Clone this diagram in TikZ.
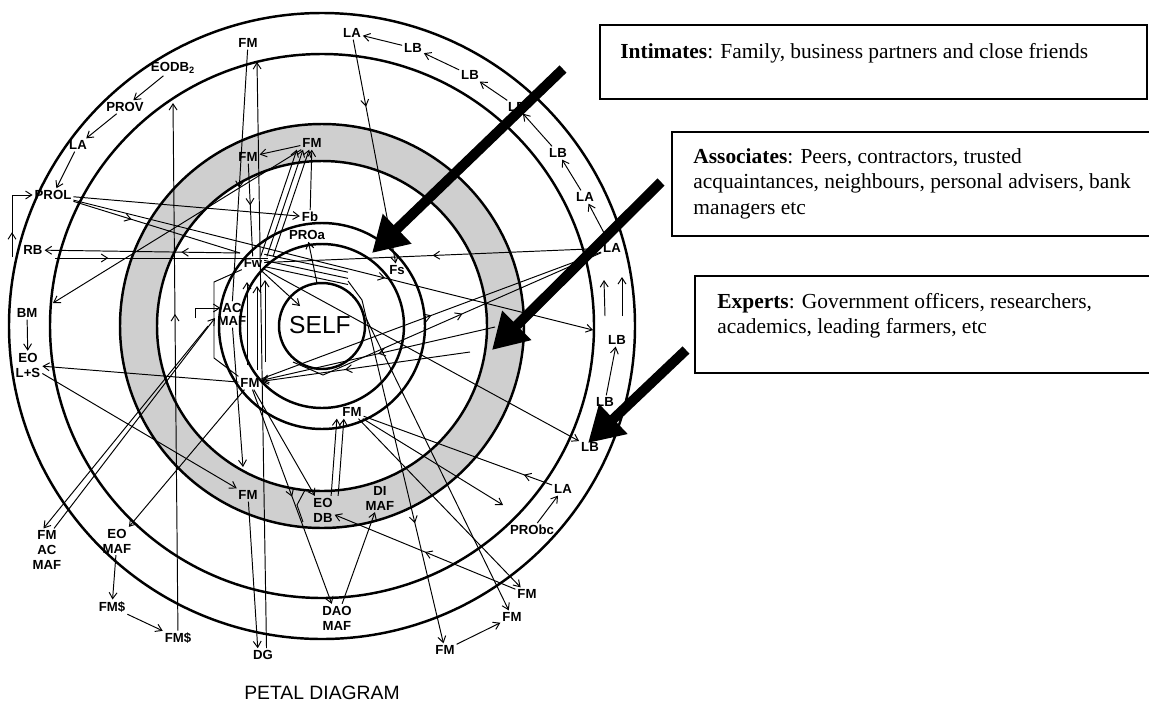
\documentclass[tikz,border=0pt]{standalone}
\usepackage{fontspec}
\setsansfont{Liberation Sans}
\newfontfamily\legendfont{Liberation Serif}
\usetikzlibrary{arrows.meta,decorations.markings}

\tikzset{
  ring/.style={line width=1.4pt},
  link/.style={line width=0.55pt},
  lbl/.style={font=\sffamily\bfseries\fontsize{7.5}{8.5}\selectfont, inner sep=1pt, align=center},
  midarr/.style={postaction={decorate}, decoration={markings,
      mark=at position #1 with {\arrow{Straight Barb[length=3.5pt,width=4.5pt]}}}},
  midarr/.default=0.5,
  bigarrow/.style={line width=5.7pt, -{Triangle[length=0.7cm,width=0.78cm]}},
  legend/.style={font=\legendfont\fontsize{12.2}{14.5}\selectfont, inner sep=0pt, anchor=north west, align=left},
  >={Straight Barb[length=3.5pt,width=4.5pt]}
}

\begin{document}
\begin{tikzpicture}[x=0.02cm,y=-0.02cm]
    \fill[white] (0,0) rectangle (1149,707);
    \useasboundingbox (0,0) rectangle (1149,707);
    \coordinate (C) at (322,326);
    % rings
    \fill[black!19, even odd rule] (C) circle[radius=202] (C) circle[radius=165];
    \foreach \r in {313, 272, 202, 165, 103, 82, 43} {
        \draw[ring] (C) circle[radius=\r];
    }
    \node[font=\sffamily\fontsize{14}{16}\selectfont] (self) at (320,325) {SELF};
    % outer labels
    \node[lbl] (fmtop) at (248,43) {FM};
    \node[lbl] (eodb) at (173,68) {EODB\textsubscript{2}};
    \node[lbl] (prov) at (125,107) {PROV};
    \node[lbl] (laL) at (78,145) {LA};
    \node[lbl] (prol) at (53,195) {PROL};
    \node[lbl] (rb) at (33,250) {RB};
    \node[lbl] (bm) at (27,313) {BM};
    \node[lbl] (eols) at (28,365) {EO\\L+S};
    \node[lbl] (fmacmaf) at (47,550) {FM\\AC\\MAF};
    \node[lbl] (eomaf) at (117,541) {EO\\MAF};
    \node[lbl] (fms1) at (112,607) {FM\$};
    \node[lbl] (fms2) at (178,638) {FM\$};
    \node[lbl] (dg) at (263,655) {DG};
    \node[lbl] (daomaf) at (337,618) {DAO\\MAF};
    \node[lbl] (fmb1) at (445,650) {FM};
    \node[lbl] (fmb2) at (512,617) {FM};
    \node[lbl] (fmb3) at (527,594) {FM};
    \node[lbl] (probc) at (532,530) {PRObc};
    \node[lbl] (laR) at (563,489) {LA};
    \node[lbl] (lb9) at (590,447) {LB};
    \node[lbl] (lb8) at (605,402) {LB};
    \node[lbl] (lb7) at (617,340) {LB};
    \node[lbl] (la6) at (612,248) {LA};
    \node[lbl] (la5) at (585,197) {LA};
    \node[lbl] (lb4) at (558,153) {LB};
    \node[lbl] (lb3) at (517,107) {LB};
    \node[lbl] (lb2) at (470,75) {LB};
    \node[lbl] (lb1) at (413,48) {LB};
    \node[lbl] (laT) at (352,33) {LA};
    % inner labels
    \node[lbl] (fmsh1) at (312,143) {FM};
    \node[lbl] (fmsh2) at (248,157) {FM};
    \node[lbl] (fb) at (310,217) {Fb};
    \node[lbl] (proa) at (307,235) {PROa};
    \node[lbl] (fw) at (253,263) {Fw};
    \node[lbl] (ac) at (232,308) {AC};
    \node[lbl] (maf) at (232,321) {MAF};
    \node[lbl] (fs) at (397,270) {Fs};
    \node[lbl] (fmw) at (250,383) {FM};
    \node[lbl] (fmse) at (352,412) {FM};
    \node[lbl] (fmsh3) at (248,495) {FM};
    \node[lbl] (eodbs) at (323,510) {EO\\DB};
    \node[lbl] (dimaf) at (380,498) {DI\\MAF};
    % free ends
    \coordinate (bkt) at (12,257);
    \coordinate (fwL) at (240,253);
    \coordinate (fwR) at (268,258);
    \coordinate (rbR) at (55,258);
    \coordinate (leftTip) at (53,303);
    \coordinate (topTip) at (173,103);
    \coordinate (dgTop) at (257,62);
    \coordinate (lbTip) at (593,330);
    \coordinate (vA) at (293,362);
    \coordinate (vB) at (323,375);
    \coordinate (rShade) at (495,327);
    \coordinate (rShadeB) at (470,352);
    \coordinate (selfTop) at (317,283);
    \coordinate (selfNW) at (300,306);
    \coordinate (selfNE) at (348,281);
    \coordinate (selfE) at (362,300);
    \coordinate (selfE2) at (366,318);
    \coordinate (dbTip) at (503,505);
    \coordinate (acDown) at (243,467);
    \coordinate (acL) at (195,318);
    \coordinate (mA) at (208,326);
    \coordinate (mB) at (215,318);
    \coordinate (pA) at (214,282);
    \coordinate (pB) at (214,358);
    \coordinate (kA) at (305,490);
    \coordinate (kB) at (297,505);
    \coordinate (kC) at (303,522);
    \coordinate (uA1) at (605,316); \coordinate (uA2) at (604,280);
    \coordinate (uB1) at (622,316); \coordinate (uB2) at (622,277);
    \coordinate (vS1) at (247,365); \coordinate (vS2) at (247,282);
    \coordinate (vT1) at (257,370); \coordinate (vT2) at (257,286);
    \coordinate (vU1) at (265,362); \coordinate (vU2) at (265,280);
    % outer chains
    \draw[link,->] (eodb) -- (prov);
    \draw[link,->] (prov) -- (laL);
    \draw[link,->] (laL) -- (prol);
    \draw[link,->] (bm) -- (eols);
    \draw[link,->] (lb1) -- (laT);
    \draw[link,->] (lb2) -- (lb1);
    \draw[link,->] (lb3) -- (lb2);
    \draw[link,->] (lb4) -- (lb3);
    \draw[link,->] (la5) -- (lb4);
    \draw[link,->] (la6) -- (la5);
    \draw[link,->] (uA1) -- (uA2);
    \draw[link,->] (uB1) -- (uB2);
    \draw[link,->] (lb8) -- (lb7);
    \draw[link,->] (probc) -- (laR);
    \draw[link,->] (fmb1) -- (fmb2);
    \draw[link,->] (fms1) -- (fms2);
    \draw[link,->] (eomaf) -- (fms1);
    \draw[link,->,midarr=0.3] (bkt) |- (prol);
    % long connectors
    \draw[link,->] (prol) -- (fb);
    \draw[link,midarr=0.35] (prol) -- (fwL);
    \draw[link,->,midarr=0.3] (fwL) -- (rb);
    \draw[link,midarr=0.25] (rbR) -- (fwR);
    \draw[link,midarr=0.5] (la6) -- (fw);
    \draw[link,->,midarr=0.6] (prol) -- (lbTip);
    \draw[link,->,midarr=0.3] (laT) -- (fs);
    \draw[link,->] (fmw) -- (eols);
    \draw[link,->] (eols) -- (fmsh3);
    \draw[link,->] (fmsh1) -- (leftTip);
    \draw[link,->] (mA) -- ([xshift=-2pt]fmacmaf.north);
    \draw[link,->] ([xshift=4pt]fmacmaf.north) -- (mB);
    \draw[link,->] (fmw) -- (eomaf);
    \draw[link,->] ([xshift=2pt]dg.north) -- (dgTop);
    \draw[link,->] (fmsh3) -- ([xshift=-3pt]dg.north);
    \draw[link,->,midarr=0.6] (fms2) -- (topTip);
    \draw[link,midarr=0.55] (fmtop) -- (ac);
    \draw[link,midarr=0.45] (fmsh2) -- (fw);
    \draw[link,->] (fmsh1) -- (fmsh2);
    \foreach \d in {-2pt,1.5pt,5pt} {
        \draw[link,->] ([xshift=\d]fw.north east) -- ([xshift=\d]fmsh1.south west);
        \draw[link] ([yshift=\d]fw.east) -- ([yshift=\d]selfNE);
    }
    \draw[link,->] (fb) -- (fmsh1);
    \draw[link,->] (selfTop) -- (proa);
    \draw[link,->] (fw) -- (selfNW);
    \draw[link] (selfNE) -- (selfE);
    \draw[link,->,midarr=0.65] (selfE) -- (fmb1);
    \draw[link,->] (selfE2) -- (fmb2);
    \draw[link,midarr=0.55] (vA) -- (vB) -- (la6);
    \draw[link,midarr=0.5] (fmw) -- (la6);
    \draw[link,->,midarr=0.5] (rShade) -- (fmw);
    \draw[link,->,midarr=0.6] (rShadeB) -- (fmw);
    \draw[link,->] (fw) -- (lb9);
    \draw[link,->] (fmw) -- (eodbs);
    \draw[link,->,midarr=0.5] (fmw) -- (daomaf);
    \draw[link,->] (daomaf) -- (dimaf);
    \draw[link,->,midarr=0.5] (fmb3) -- (eodbs);
    \draw[link,->] (fmse) -- (dbTip);
    \draw[link,midarr=0.15] (laR) -- (fmse);
    \draw[link,->] (fmse) -- (fmb3);
    \foreach \d in {-2pt,2pt} {
        \draw[link,->] ([xshift=\d]eodbs.north east) -- ([xshift=\d]fmse.south west);
    }
    \draw[link,->] (maf) -- (acDown);
    \draw[link,->] (acL) |- (ac);
    \draw[link] (fw.south west) -- (pA) -- (pB) -- (fmw.north west);
    \draw[link] (kA) -- (kB) -- (kC);
    \draw[link,->] (vS1) -- (vS2);
    \draw[link,->] (vT1) -- (vT2);
    \draw[link,->] (vU1) -- (vU2);
    % legend boxes
    \draw[line width=1pt] (600,25) rectangle (1147,99);
    \draw[line width=1pt] (672,132) rectangle (1155,236);
    \draw[line width=1pt] (695,276) rectangle (1155,373);
    \node[legend] (intimates) at (620,43) {\textbf{Intimates}: Family, business partners and close friends};
    \node[legend] (associates) at (693,148) {\textbf{Associates}: Peers, contractors, trusted\\acquaintances, neighbours, personal advisers, bank\\managers etc};
    \node[legend] (experts) at (717,293) {\textbf{Experts}: Government officers, researchers,\\academics, leading farmers, etc};
    % pointers
    \coordinate (tailA) at (563,69);
    \coordinate (tipA) at (372,253);
    \coordinate (tailB) at (661,182);
    \coordinate (tipB) at (492,350);
    \coordinate (tailC) at (686,350);
    \coordinate (tipC) at (588,443);
    \draw[bigarrow] (tailA) -- (tipA);
    \draw[bigarrow] (tailB) -- (tipB);
    \draw[bigarrow] (tailC) -- (tipC);
    \node[font=\sffamily\fontsize{11}{13}\selectfont] (title) at (322,693) {PETAL DIAGRAM};
\end{tikzpicture}
\end{document}
